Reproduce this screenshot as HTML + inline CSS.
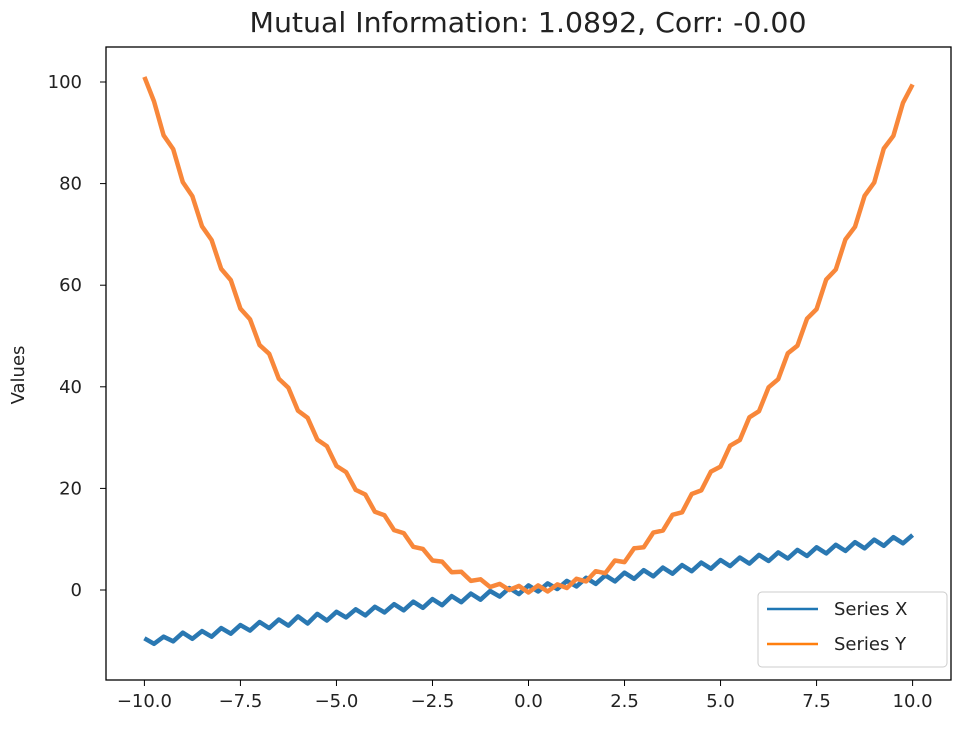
<!DOCTYPE html>
<html><head><meta charset="utf-8"><style>
body{margin:0;background:#fff;}
svg text{font-family:"DejaVu Sans","Liberation Sans",sans-serif;fill:#222;}
</style></head><body>
<svg id="chart" width="960" height="730" viewBox="0 0 960 730">
<rect width="960" height="730" fill="#fff"/>
<text x="528" y="32" text-anchor="middle" font-size="28" textLength="557" lengthAdjust="spacingAndGlyphs">Mutual Information: 1.0892, Corr: -0.00</text>
<text transform="translate(24,375) rotate(-90)" text-anchor="middle" font-size="18">Values</text>
<g id="ticks"></g>
<g id="series"></g>
<rect x="106" y="47" width="845" height="633" fill="none" stroke="#000" stroke-width="1.3"/>
<g>
<rect x="758" y="592" width="189" height="75" rx="4" fill="#fff" stroke="#ccc" stroke-width="1"/>
<line x1="767" y1="609" x2="818" y2="609" stroke="#1f77b4" stroke-width="2.5"/>
<text x="834" y="615" font-size="18">Series X</text>
<line x1="767" y1="644" x2="818" y2="644" stroke="#ff7f0e" stroke-width="2.5"/>
<text x="834" y="650" font-size="18">Series Y</text>
</g>
</svg>
<script>
const xTicks=[-10,-7.5,-5,-2.5,0,2.5,5,7.5,10];
const xTickLabels=["\u221210.0","\u22127.5","\u22125.0","\u22122.5","0.0","2.5","5.0","7.5","10.0"];
const yTicks=[0,20,40,60,80,100];
const yTickLabels=["0","20","40","60","80","100"];
const xs=[-10,-9.75,-9.5,-9.25,-9,-8.75,-8.5,-8.25,-8,-7.75,-7.5,-7.25,-7,-6.75,-6.5,-6.25,-6,-5.75,-5.5,-5.25,-5,-4.75,-4.5,-4.25,-4,-3.75,-3.5,-3.25,-3,-2.75,-2.5,-2.25,-2,-1.75,-1.5,-1.25,-1,-0.75,-0.5,-0.25,0,0.25,0.5,0.75,1,1.25,1.5,1.75,2,2.25,2.5,2.75,3,3.25,3.5,3.75,4,4.25,4.5,4.75,5,5.25,5.5,5.75,6,6.25,6.5,6.75,7,7.25,7.5,7.75,8,8.25,8.5,8.75,9,9.25,9.5,9.75,10];
const seriesX=[-9.5,-10.6,-9.2,-10.1,-8.4,-9.6,-8.1,-9.2,-7.5,-8.6,-6.9,-8.0,-6.3,-7.5,-5.8,-7.0,-5.2,-6.6,-4.7,-6.0,-4.3,-5.4,-3.8,-5.0,-3.3,-4.4,-2.8,-4.0,-2.3,-3.5,-1.8,-3.0,-1.2,-2.4,-0.7,-1.9,-0.2,-1.3,0.4,-0.8,0.9,-0.3,1.3,0.2,1.8,0.7,2.4,1.2,2.9,1.7,3.4,2.2,3.9,2.7,4.4,3.2,4.9,3.7,5.4,4.2,5.9,4.7,6.4,5.2,6.9,5.7,7.4,6.2,7.9,6.7,8.4,7.2,8.9,7.7,9.4,8.2,9.9,8.7,10.4,9.2,10.8];
const seriesY=[101,96.2,89.5,86.8,80.3,77.5,71.6,68.9,63.2,61,55.4,53.3,48.2,46.5,41.6,39.8,35.3,33.9,29.6,28.3,24.4,23.2,19.7,18.8,15.4,14.7,11.8,11.2,8.5,8.1,5.8,5.6,3.5,3.6,1.8,2.1,0.6,1.2,0,0.8,-0.5,0.9,-0.3,1.1,0.4,2.2,1.7,3.7,3.3,5.8,5.5,8.2,8.4,11.3,11.7,14.8,15.3,18.9,19.6,23.3,24.3,28.4,29.5,34,35.2,39.9,41.5,46.6,48.1,53.4,55.3,61.1,63.1,69,71.5,77.6,80.2,86.9,89.4,95.9,99.5];
const NS="http://www.w3.org/2000/svg";
function sx(v){return 106+(v+11)*(845/22);}
function sy(v){return 590-v*5.08;}
const tg=document.getElementById('ticks');
xTicks.forEach((t,i)=>{
  const l=document.createElementNS(NS,'line');
  l.setAttribute('x1',sx(t));l.setAttribute('x2',sx(t));l.setAttribute('y1',680);l.setAttribute('y2',686);
  l.setAttribute('stroke','#000');
  
  
  tg.appendChild(l);
  const tx=document.createElementNS(NS,'text');
  tx.setAttribute('x',sx(t));tx.setAttribute('y',707);tx.setAttribute('text-anchor','middle');tx.setAttribute('font-size','18');
  tx.textContent=xTickLabels[i];
  
  
  tg.appendChild(tx);
});
yTicks.forEach((t,i)=>{
  const l=document.createElementNS(NS,'line');
  l.setAttribute('x1',100);l.setAttribute('x2',106);l.setAttribute('y1',sy(t));l.setAttribute('y2',sy(t));
  l.setAttribute('stroke','#000');
  
  
  tg.appendChild(l);
  const tx=document.createElementNS(NS,'text');
  tx.setAttribute('x',82);tx.setAttribute('y',sy(t)+6);tx.setAttribute('text-anchor','end');tx.setAttribute('font-size','18');
  tx.textContent=yTickLabels[i];
  
  
  tg.appendChild(tx);
});
const sg=document.getElementById('series');
function line(vals,color,name){
  const p=document.createElementNS(NS,'polyline');
  p.setAttribute('points',vals.map((v,i)=>sx(xs[i]).toFixed(1)+','+sy(v).toFixed(1)).join(' '));
  p.setAttribute('fill','none');p.setAttribute('stroke',color);p.setAttribute('stroke-width','4.5');p.setAttribute('stroke-linejoin','round');
  
  
  sg.appendChild(p);
}
line(seriesX,'#2a78b2','series-x-line');
line(seriesY,'#f8873a','series-y-line');
</script>
</body></html>
